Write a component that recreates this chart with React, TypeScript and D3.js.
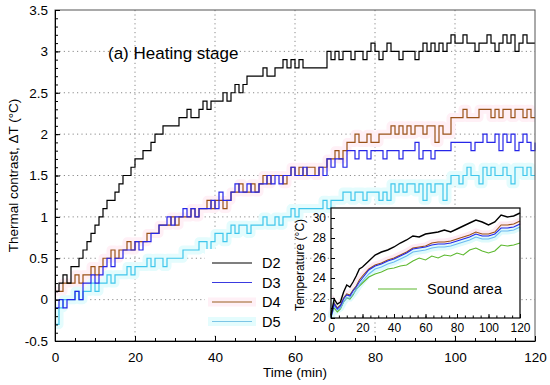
import React, { useEffect, useRef } from "react";
import * as d3 from "d3";

// time in minutes, one sample per minute
const minutes = d3.range(0, 121);

const d2 = [
  0.1, 0.2, 0.3, 0.2, 0.4, 0.4, 0.5, 0.6, 0.7, 0.8,
  0.9, 1.0, 1.1, 1.2, 1.2, 1.3, 1.4, 1.5, 1.5, 1.6,
  1.7, 1.7, 1.8, 1.8, 1.9, 2.0, 2.0, 2.1, 2.1, 2.1,
  2.1, 2.2, 2.2, 2.3, 2.2, 2.2, 2.3, 2.4, 2.3, 2.4,
  2.4, 2.4, 2.5, 2.4, 2.5, 2.6, 2.5, 2.6, 2.7, 2.7,
  2.7, 2.7, 2.8, 2.7, 2.7, 2.8, 2.8, 2.9, 2.8, 2.9,
  2.8, 2.9, 2.8, 2.8, 2.8, 2.8, 2.8, 2.8, 3.0, 2.9,
  3.0, 2.9, 3.0, 3.0, 2.9, 3.0, 3.0, 2.9, 3.0, 3.1,
  3.0, 2.9, 3.0, 3.1, 3.0, 3.0, 2.9, 3.0, 3.0, 3.0,
  2.9, 3.0, 3.1, 3.0, 3.1, 3.0, 3.1, 3.0, 3.1, 3.2,
  3.1, 3.1, 3.2, 3.1, 3.1, 3.0, 3.1, 3.1, 3.2, 3.1,
  3.0, 3.1, 3.2, 3.1, 3.2, 3.0, 3.1, 3.2, 3.1, 3.1,
  3.1,
];

const d3s = [
  -0.1, 0.0, -0.1, 0.0, 0.0, 0.1, 0.0, 0.2, 0.2, 0.3,
  0.2, 0.3, 0.4, 0.5, 0.4, 0.5, 0.5, 0.6, 0.6, 0.6,
  0.7, 0.6, 0.7, 0.7, 0.8, 0.8, 0.9, 0.9, 1.0, 0.9,
  1.0, 1.0, 1.1, 1.0, 1.1, 1.0, 1.1, 1.1, 1.1, 1.2,
  1.1, 1.3, 1.2, 1.2, 1.3, 1.4, 1.3, 1.3, 1.4, 1.3,
  1.3, 1.4, 1.4, 1.5, 1.4, 1.5, 1.4, 1.5, 1.5, 1.6,
  1.5, 1.5, 1.6, 1.5, 1.5, 1.5, 1.6, 1.5, 1.7, 1.6,
  1.7, 1.7, 1.6, 1.8, 1.8, 1.7, 1.8, 1.8, 1.7, 1.8,
  1.8, 1.8, 1.7, 1.8, 1.8, 1.8, 1.7, 1.8, 1.8, 1.8,
  1.9, 1.7, 1.8, 1.8, 1.7, 1.8, 1.8, 1.8, 1.8, 1.9,
  1.9, 1.9, 1.9, 1.9, 1.8, 1.9, 1.9, 2.0, 1.9, 1.9,
  2.0, 1.8, 2.0, 1.9, 2.0, 1.8, 1.9, 2.0, 1.9, 1.8,
  1.9,
];

const d4 = [
  0.1, 0.1, 0.2, 0.2, 0.2, 0.3, 0.2, 0.3, 0.3, 0.4,
  0.3, 0.4, 0.5, 0.5, 0.6, 0.5, 0.6, 0.6, 0.7, 0.6,
  0.7, 0.7, 0.7, 0.8, 0.8, 0.8, 0.9, 0.9, 0.9, 1.0,
  0.9, 1.0, 1.0, 1.0, 1.1, 1.0, 1.1, 1.1, 1.2, 1.1,
  1.2, 1.2, 1.1, 1.2, 1.3, 1.3, 1.4, 1.3, 1.3, 1.4,
  1.3, 1.4, 1.5, 1.4, 1.5, 1.5, 1.5, 1.4, 1.5, 1.6,
  1.5, 1.6, 1.5, 1.6, 1.6, 1.5, 1.6, 1.6, 1.7, 1.7,
  1.8, 1.7, 1.8, 1.9, 1.9, 2.0, 1.9, 1.9, 2.0, 1.9,
  1.9, 2.0, 2.0, 2.0, 2.1, 2.0, 2.1, 2.0, 2.1, 2.0,
  2.1, 2.1, 2.0, 2.1, 2.1, 1.9, 2.1, 2.0, 2.0, 2.2,
  2.2, 2.2, 2.3, 2.2, 2.2, 2.2, 2.3, 2.3, 2.3, 2.2,
  2.3, 2.2, 2.3, 2.3, 2.2, 2.3, 2.3, 2.2, 2.3, 2.2,
  2.2,
];

const d5 = [
  -0.3, -0.1, 0.0, 0.0, 0.0, 0.1, 0.0, 0.1, 0.1, 0.2,
  0.1, 0.2, 0.2, 0.3, 0.2, 0.3, 0.3, 0.3, 0.4, 0.3,
  0.4, 0.4, 0.4, 0.5, 0.4, 0.5, 0.5, 0.4, 0.5, 0.5,
  0.5, 0.5, 0.6, 0.6, 0.6, 0.6, 0.7, 0.7, 0.6, 0.7,
  0.8, 0.8, 0.7, 0.8, 0.9, 0.8, 0.9, 0.9, 0.8, 0.9,
  0.9, 0.9, 1.0, 0.9, 0.9, 1.0, 0.9, 1.0, 1.0, 1.1,
  1.0, 1.1, 1.1, 1.1, 1.1, 1.1, 1.1, 1.2, 1.1, 1.2,
  1.2, 1.2, 1.3, 1.3, 1.2, 1.3, 1.3, 1.2, 1.3, 1.3,
  1.3, 1.2, 1.3, 1.2, 1.4, 1.3, 1.4, 1.3, 1.4, 1.4,
  1.3, 1.4, 1.2, 1.4, 1.3, 1.4, 1.4, 1.2, 1.4, 1.5,
  1.5, 1.4, 1.5, 1.6, 1.5, 1.5, 1.4, 1.6, 1.5, 1.6,
  1.5, 1.5, 1.6, 1.5, 1.4, 1.6, 1.6, 1.5, 1.6, 1.5,
  1.5,
];

// inset: temperatures (°C)
const insetTime = [0, 2, 4, 6, 8, 10, 12, 14, 16, 18, 20, 24, 28, 32, 36, 40, 44, 48, 52, 56, 60, 64, 68, 72, 76, 80, 84, 88, 92, 96, 100, 104, 108, 112, 116, 120];
const insetD2 = [20.3, 21.9, 21.4, 21.6, 22.6, 23.3, 23.1, 23.6, 24.2, 24.9, 25.1, 25.7, 26.3, 26.6, 26.8, 27.1, 27.5, 27.8, 28.2, 28.1, 28.4, 28.5, 28.6, 28.8, 28.6, 28.9, 29.2, 29.5, 29.8, 29.6, 29.3, 29.6, 30.3, 30.1, 30.2, 30.5];
const insetD3 = [20.1, 21.4, 20.9, 21.2, 21.9, 22.3, 22.2, 22.7, 23.1, 23.6, 24.0, 24.8, 25.2, 25.4, 25.7, 25.9, 26.2, 26.5, 26.9, 27.0, 27.1, 27.3, 27.4, 27.4, 27.5, 27.7, 27.9, 28.1, 28.4, 28.2, 28.2, 28.4, 29.0, 29.0, 29.1, 29.4];
const insetD4 = [20.2, 21.5, 21.0, 21.3, 22.0, 22.4, 22.3, 22.8, 23.2, 23.8, 24.2, 24.9, 25.3, 25.5, 25.8, 26.0, 26.3, 26.6, 27.0, 27.1, 27.2, 27.5, 27.6, 27.6, 27.7, 27.9, 28.1, 28.3, 28.6, 28.4, 28.4, 28.6, 29.3, 29.3, 29.4, 29.7];
const insetD5 = [20.0, 21.2, 20.8, 21.0, 21.6, 22.0, 22.0, 22.4, 22.8, 23.3, 23.7, 24.4, 24.9, 25.1, 25.4, 25.6, 25.9, 26.2, 26.6, 26.7, 26.8, 27.0, 27.1, 27.1, 27.2, 27.4, 27.6, 27.8, 28.1, 27.9, 27.9, 28.1, 28.7, 28.7, 28.8, 29.1];
const insetSound = [20.2, 21.0, 20.6, 20.9, 21.6, 22.0, 21.9, 22.3, 22.9, 23.2, 23.5, 24.1, 24.4, 24.6, 24.9, 25.0, 25.2, 25.3, 25.7, 26.0, 25.8, 26.2, 26.0, 26.3, 26.2, 26.5, 26.3, 26.8, 27.0, 26.7, 26.5, 26.7, 27.3, 27.2, 27.3, 27.5];

const seriesNames = ["D2", "D3", "D4", "D5"];
const seriesColors = ["#000000", "#2626e8", "#9a5218", "#40c6ec"];
const legendColors = ["#000000", "#3a3ae0", "#9a5e1e", "#7cc5e6"];
const haloColors: (string | null)[] = [null, null, "#fff0f6", "#e4fcfd"];

const yTicks = [-0.5, 0, 0.5, 1, 1.5, 2, 2.5, 3, 3.5];
const xTicks = [0, 20, 40, 60, 80, 100, 120];
const insetYTicks = [20, 22, 24, 26, 28, 30];
const insetXTicks = [0, 20, 40, 60, 80, 100, 120];

const FONT = "'Liberation Sans', Arial, Helvetica, sans-serif";

export default function App() {
  const ref = useRef<SVGSVGElement>(null);

  useEffect(() => {
    const svg = d3.select(ref.current);
    svg.selectAll("*").remove();
    svg.attr("font-family", FONT);

    const x = d3.scaleLinear().domain([0, 120]).range([55, 535]);
    const y = d3.scaleLinear().domain([-0.5, 3.5]).range([341, 10]);

    // grid
    const grid = svg.append("g").attr("stroke", "#8a8a8a").attr("stroke-width", 1).attr("stroke-dasharray", "1.2,3.2");
    xTicks.slice(1, -1).forEach((v) => {
      grid.append("line").attr("x1", x(v)).attr("x2", x(v)).attr("y1", y(3.5)).attr("y2", y(-0.5));
    });
    yTicks.slice(1, -1).forEach((v) => {
      grid.append("line").attr("x1", x(0)).attr("x2", x(120)).attr("y1", y(v)).attr("y2", y(v));
    });

    const all = [d2, d3s, d4, d5];
    const line = d3
      .line<number>()
      .x((_, i) => x(minutes[i]))
      .y((d) => y(d))
      .curve(d3.curveStepAfter);

    // faint halos round D4 and D5
    [2, 3].forEach((k) => {
      svg.append("path").datum(all[k]).attr("d", line).attr("fill", "none")
        .attr("stroke", haloColors[k] as string).attr("stroke-width", 9).attr("stroke-linejoin", "round");
    });
    [3, 2, 1, 0].forEach((k) => {
      svg.append("path").datum(all[k]).attr("d", line).attr("fill", "none")
        .attr("stroke", seriesColors[k]).attr("stroke-width", 1.2);
    });

    // frame
    svg.append("rect").attr("x", x(0)).attr("y", y(3.5)).attr("width", x(120) - x(0)).attr("height", y(-0.5) - y(3.5))
      .attr("fill", "none").attr("stroke", "#555").attr("stroke-width", 1);

    // axes
    const yAxis = svg.append("g").attr("transform", `translate(${x(0)},0)`)
      .call(d3.axisLeft(y).tickValues(yTicks).tickSizeInner(-5).tickSizeOuter(0).tickPadding(7).tickFormat((d) => String(d)));
    yAxis.select(".domain").attr("stroke", "#000");
    yAxis.selectAll("text").attr("font-size", 13.5).attr("font-family", FONT).attr("fill", "#000");
    svg.append("g").attr("transform", `translate(${x(0)},0)`)
      .call(d3.axisLeft(y).tickValues(d3.range(-5, 36).map((v) => v / 10)).tickSizeInner(-3).tickSizeOuter(0).tickFormat(() => ""))
      .select(".domain").remove();

    const xAxis = svg.append("g").attr("transform", `translate(0,${y(-0.5)})`)
      .call(d3.axisBottom(x).tickValues(xTicks).tickSizeInner(-5).tickSizeOuter(0).tickPadding(11).tickFormat((d) => String(d)));
    xAxis.select(".domain").attr("stroke", "#000");
    xAxis.selectAll("text").attr("font-size", 13.5).attr("font-family", FONT).attr("fill", "#000");
    svg.append("g").attr("transform", `translate(0,${y(-0.5)})`)
      .call(d3.axisBottom(x).tickValues(d3.range(0, 121, 5)).tickSizeInner(-3).tickSizeOuter(0).tickFormat(() => ""))
      .select(".domain").remove();

    // labels
    svg.append("text").attr("x", 295).attr("y", 377).attr("text-anchor", "middle").attr("font-size", 13.5).text("Time (min)");
    svg.append("text").attr("transform", `translate(18,${(y(3.5) + y(-0.5)) / 2}) rotate(-90)`)
      .attr("text-anchor", "middle").attr("font-size", 13.5).text("Thermal contrast, ΔT (°C)");
    svg.append("text").attr("x", 108).attr("y", 59).attr("font-size", 17).text("(a) Heating stage");

    // legend
    const lg = svg.append("g");
    lg.append("rect").attr("x", 205).attr("y", 249).attr("width", 92).attr("height", 84).attr("fill", "#fff");
    seriesNames.forEach((name, i) => {
      const ly = 263 + i * 19.5;
      if (haloColors[i]) {
        lg.append("line").attr("x1", 208).attr("x2", 256).attr("y1", ly).attr("y2", ly)
          .attr("stroke", haloColors[i] as string).attr("stroke-width", 9);
      }
      lg.append("line").attr("x1", 212).attr("x2", 252).attr("y1", ly).attr("y2", ly)
        .attr("stroke", legendColors[i]).attr("stroke-width", 1.2);
      lg.append("text").attr("x", 262).attr("y", ly + 5).attr("font-size", 14.5).text(name);
    });

    // inset
    const ix = d3.scaleLinear().domain([0, 120]).range([331, 520]);
    const iy = d3.scaleLinear().domain([20, 31]).range([318, 208]);
    const inset = svg.append("g");
    inset.append("rect").attr("x", ix(0)).attr("y", iy(31)).attr("width", ix(120) - ix(0)).attr("height", iy(20) - iy(31)).attr("fill", "#fff");

    const iline = d3.line<number>().x((_, i) => ix(insetTime[i])).y((d) => iy(d));
    const insetSeries = [insetD2, insetD3, insetD4, insetD5];
    inset.append("path").datum(insetD4).attr("d", iline).attr("fill", "none").attr("stroke", "#fdeaf3").attr("stroke-width", 7);
    inset.append("path").datum(insetD5).attr("d", iline).attr("fill", "none").attr("stroke", "#ddfafc").attr("stroke-width", 7);
    inset.append("path").datum(insetSound).attr("d", iline).attr("fill", "none").attr("stroke", "#5cb82e").attr("stroke-width", 1.1);
    [3, 2, 1, 0].forEach((k) => {
      inset.append("path").datum(insetSeries[k]).attr("d", iline).attr("fill", "none")
        .attr("stroke", k === 3 ? "#6cb8f0" : seriesColors[k]).attr("stroke-width", k === 0 ? 1.4 : 1.1);
    });

    inset.append("rect").attr("x", ix(0)).attr("y", iy(31)).attr("width", ix(120) - ix(0)).attr("height", iy(20) - iy(31))
      .attr("fill", "none").attr("stroke", "#000").attr("stroke-width", 1.2);

    const iyAxis = inset.append("g").attr("transform", `translate(${ix(0)},0)`)
      .call(d3.axisLeft(iy).tickValues(insetYTicks).tickSizeInner(-4).tickSizeOuter(0).tickPadding(5).tickFormat((d) => String(d)));
    iyAxis.select(".domain").remove();
    iyAxis.selectAll("text").attr("font-size", 12).attr("font-family", FONT).attr("fill", "#000");
    inset.append("g").attr("transform", `translate(${ix(0)},0)`)
      .call(d3.axisLeft(iy).tickValues(d3.range(20, 31)).tickSizeInner(-2.5).tickSizeOuter(0).tickFormat(() => ""))
      .select(".domain").remove();

    const ixAxis = inset.append("g").attr("transform", `translate(0,${iy(20)})`)
      .call(d3.axisBottom(ix).tickValues(insetXTicks).tickSizeInner(-4).tickSizeOuter(0).tickPadding(5).tickFormat((d) => String(d)));
    ixAxis.select(".domain").remove();
    ixAxis.selectAll("text").attr("font-size", 12).attr("font-family", FONT).attr("fill", "#000");
    inset.append("g").attr("transform", `translate(0,${iy(20)})`)
      .call(d3.axisBottom(ix).tickValues(d3.range(0, 121, 5)).tickSizeInner(-2.5).tickSizeOuter(0).tickFormat(() => ""))
      .select(".domain").remove();

    inset.append("text").attr("transform", `translate(304,${(iy(31) + iy(20)) / 2 + 2}) rotate(-90)`)
      .attr("text-anchor", "middle").attr("font-size", 12).text("Temperature (°C)");

    inset.append("line").attr("x1", 378).attr("x2", 417).attr("y1", 289).attr("y2", 289).attr("stroke", "#5cb82e").attr("stroke-width", 1.2);
    inset.append("text").attr("x", 427).attr("y", 294).attr("font-size", 14.5).text("Sound area");
  }, []);

  return (
    <svg
      ref={ref}
      width={550}
      height={385}
      style={{ position: "absolute", left: 0, top: 0, background: "#fff" }}
    />
  );
}
